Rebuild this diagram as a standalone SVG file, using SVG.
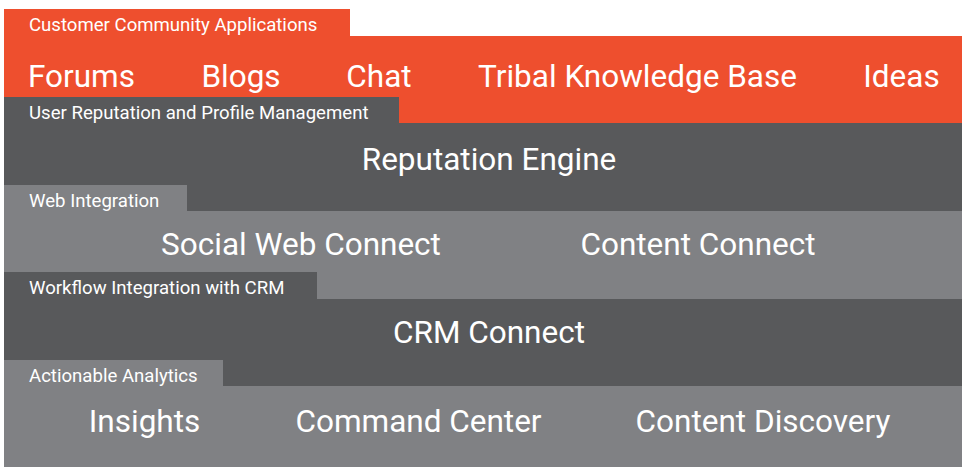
<svg xmlns="http://www.w3.org/2000/svg" width="962" height="467" viewBox="0 0 962 467">
<style>
.or{fill:#EE4F2E}
.dk{fill:#58595B}
.lt{fill:#808184}
text{fill:#FFFFFF;font-family:Roboto,"Liberation Sans",sans-serif;font-weight:400}
.tab{font-size:18.6px}
.big{font-size:31.5px;text-anchor:middle}
</style>
<rect width="962" height="467" fill="#FFFFFF"/>
<g id="layer-customer">
<rect class="or" x="4" y="9" width="346" height="28"/>
<rect class="or" x="4" y="36" width="958" height="87"/>
<text class="tab" x="29" y="31">Customer Community Applications</text>
<text class="big" x="81.5" y="87">Forums</text>
<text class="big" x="241" y="87">Blogs</text>
<text class="big" x="379" y="87">Chat</text>
<text class="big" x="637.5" y="87">Tribal Knowledge Base</text>
<text class="big" x="901.5" y="87">Ideas</text>
</g>
<g id="layer-reputation">
<rect class="dk" x="4" y="97" width="395" height="27"/>
<rect class="dk" x="4" y="123" width="958" height="88"/>
<text class="tab" x="29" y="119">User Reputation and Profile Management</text>
<text class="big" x="489" y="170">Reputation Engine</text>
</g>
<g id="layer-web">
<rect class="lt" x="4" y="185" width="183" height="27"/>
<rect class="lt" x="4" y="211" width="958" height="88"/>
<text class="tab" x="29" y="207">Web Integration</text>
<text class="big" x="301" y="255">Social Web Connect</text>
<text class="big" x="698" y="255">Content Connect</text>
</g>
<g id="layer-workflow">
<rect class="dk" x="4" y="272" width="313" height="28"/>
<rect class="dk" x="4" y="299" width="958" height="87"/>
<text class="tab" x="29" y="294">Workflow Integration with CRM</text>
<text class="big" x="489" y="343">CRM Connect</text>
</g>
<g id="layer-analytics">
<rect class="lt" x="4" y="360" width="219" height="27"/>
<rect class="lt" x="4" y="386" width="958" height="81"/>
<text class="tab" x="29" y="382">Actionable Analytics</text>
<text class="big" x="144.5" y="432">Insights</text>
<text class="big" x="418.5" y="432">Command Center</text>
<text class="big" x="763" y="432">Content Discovery</text>
</g>
<g id="connectors"/>
</svg>
